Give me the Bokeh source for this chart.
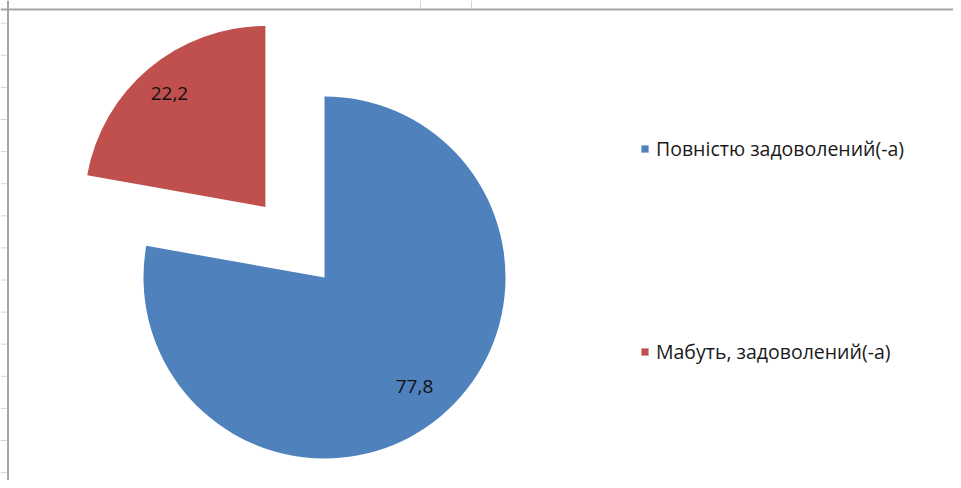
import math
from bokeh.plotting import figure
from bokeh.models import Range1d, Legend, LegendItem, Span, ColumnDataSource
from bokeh.core.properties import value
from bokeh.embed import file_html
from bokeh.resources import INLINE

# ---- data ----
categories = ["Повністю задоволений(-а)", "Мабуть, задоволений(-а)"]
values = [77.8, 22.2]
labels = ["77,8", "22,2"]
colors = ["#4F81BD", "#C0504D"]
exploded = [0.0, 92.0]

# ---- layout ----
W, H = 953, 480
cx, cy, r = 324.0, 203.0, 181.0
FONT = "Open Sans"

p = figure(width=W, height=H, x_range=Range1d(0, W), y_range=Range1d(0, H),
           min_border=0, toolbar_location=None, output_backend="svg",
           x_axis_location=None, y_axis_location=None)
p.grid.visible = False
p.outline_line_color = None
p.background_fill_color = "white"
p.border_fill_color = "white"

# spreadsheet decoration behind the chart area
rows = [H - (22.7 + 32.1 * i) for i in range(15)]
p.segment(x0=[0] * len(rows), y0=rows, x1=[6] * len(rows), y1=rows,
          line_color="#d4d4d4", line_width=1)
p.segment(x0=[420, 471], y0=[H, H], x1=[420, 471], y1=[H - 8, H - 8],
          line_color="#d4d4d4", line_width=1)

total = sum(values)
angle_top = math.pi / 2
cum = 0.0
renderers = []
for cat, v, lab, col, ex in zip(categories, values, labels, colors, exploded):
    a0 = angle_top - 2 * math.pi * (cum + v) / total  # clockwise from top
    a1 = angle_top - 2 * math.pi * cum / total
    mid = (a0 + a1) / 2
    ox = cx + ex * math.cos(mid)
    oy = cy + ex * math.sin(mid)
    src = ColumnDataSource(dict(x=[ox], y=[oy], s=[a0], e=[a1]))
    rr = p.wedge(x="x", y="y", radius=r, start_angle="s", end_angle="e",
                 direction="anticlock", fill_color=col, line_color=None, source=src)
    renderers.append(rr)
    lx = ox + 0.8 * r * math.cos(mid)
    ly = oy + 0.8 * r * math.sin(mid)
    tsrc = ColumnDataSource(dict(x=[lx], y=[ly], t=[lab]))
    p.text(x="x", y="y", text="t", source=tsrc, text_align="center",
           text_baseline="middle", text_font=value(FONT), text_font_size="19px",
           text_color="#111111", x_offset=-3, y_offset=-2)
    cum += v

# legends
leg_locs = [(640, 318), (640, 115)]
for cat, rr, loc in zip(categories, renderers, leg_locs):
    lg = Legend(items=[LegendItem(label=cat, renderers=[rr])], location=loc,
                glyph_width=9, glyph_height=9, label_standoff=7,
                label_text_font=FONT, label_text_font_size="19.5px",
                label_text_color="#1a1a1a", padding=0, margin=0, spacing=0,
                border_line_color=None, background_fill_alpha=0, label_height=20)
    p.add_layout(lg, "center")

# chart area border (top and left)
p.add_layout(Span(location=7.5, dimension="height", line_color="#a6a6a6", line_width=2))
p.add_layout(Span(location=H - 9, dimension="width", line_color="#a6a6a6", line_width=2))

open("out.html", "w").write(file_html(p, INLINE))
